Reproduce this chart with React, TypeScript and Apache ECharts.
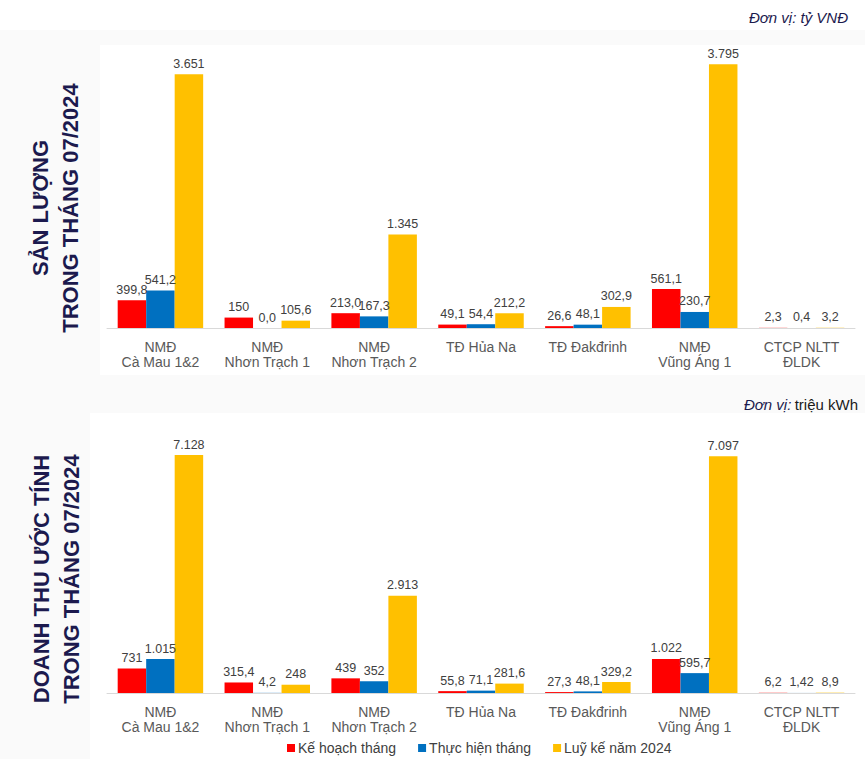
import React, { useEffect, useRef } from "react";
import * as echarts from "echarts";

const categories = [
  "NMĐ\nCà Mau 1&2",
  "NMĐ\nNhơn Trạch 1",
  "NMĐ\nNhơn Trạch 2",
  "TĐ Hủa Na",
  "TĐ Đakđrinh",
  "NMĐ\nVũng Áng 1",
  "CTCP NLTT\nĐLDK",
];

const seriesNames = ["Kế hoạch tháng", "Thực hiện tháng", "Luỹ kế năm 2024"];
const colors = ["#FF0000", "#0070C0", "#FFC000"];

// Top chart: Sản lượng
const topPlan = [399.8, 150, 213.0, 49.1, 26.6, 561.1, 2.3];
const topActual = [541.2, 0.0, 167.3, 54.4, 48.1, 230.7, 0.4];
const topCumulative = [3651, 105.6, 1345, 212.2, 302.9, 3795, 3.2];
const topPlanLabels = ["399,8", "150", "213,0", "49,1", "26,6", "561,1", "2,3"];
const topActualLabels = ["541,2", "0,0", "167,3", "54,4", "48,1", "230,7", "0,4"];
const topCumulativeLabels = ["3.651", "105,6", "1.345", "212,2", "302,9", "3.795", "3,2"];

// Bottom chart: Doanh thu ước tính
const botPlan = [731, 315.4, 439, 55.8, 27.3, 1022, 6.2];
const botActual = [1015, 4.2, 352, 71.1, 48.1, 595.7, 1.42];
const botCumulative = [7128, 248, 2913, 281.6, 329.2, 7097, 8.9];
const botPlanLabels = ["731", "315,4", "439", "55,8", "27,3", "1.022", "6,2"];
const botActualLabels = ["1.015", "4,2", "352", "71,1", "48,1", "595,7", "1,42"];
const botCumulativeLabels = ["7.128", "248", "2.913", "281,6", "329,2", "7.097", "8,9"];

const FONT = "'Liberation Sans', Arial, sans-serif";
const NAVY = "#1c1a4e";

export default function App() {
  const ref = useRef<HTMLDivElement>(null);

  useEffect(() => {
    if (!ref.current) return;
    const chart = echarts.init(ref.current, undefined, { renderer: "svg" });

    const mkSeries = (
      name: string,
      data: number[],
      labels: string[],
      color: string,
      idx: number
    ) => ({
      name,
      type: "bar",
      xAxisIndex: idx,
      yAxisIndex: idx,
      data,
      barGap: "0%",
      barCategoryGap: "20%",
      itemStyle: { color },
      label: {
        show: true,
        position: "top",
        distance: 4,
        fontFamily: FONT,
        fontSize: 12.5,
        color: "#404040",
        formatter: (p: any) => labels[p.dataIndex],
      },
    });

    const xAxisBase = (gridIndex: number) => ({
      type: "category",
      gridIndex,
      data: categories,
      axisLine: { lineStyle: { color: "#d9d9d9", width: 1 } },
      axisTick: { show: false },
      axisLabel: {
        fontFamily: FONT,
        fontSize: 14,
        color: "#595959",
        lineHeight: 15,
        margin: 11,
        interval: 0,
      },
    });

    const yAxisBase = (gridIndex: number, max: number) => ({
      type: "value",
      gridIndex,
      min: 0,
      max,
      show: false,
      splitLine: { show: false },
    });

    chart.setOption({
      animation: false,
      backgroundColor: "#ffffff",
      textStyle: { fontFamily: FONT },
      graphic: [
        { type: "rect", silent: true, z: -10, shape: { x: 0, y: 30, width: 865, height: 729 }, style: { fill: "#fafafa" } },
        { type: "rect", silent: true, z: -9, shape: { x: 100, y: 45, width: 765, height: 330 }, style: { fill: "#ffffff" } },
        { type: "rect", silent: true, z: -9, shape: { x: 90, y: 413, width: 775, height: 346 }, style: { fill: "#ffffff" } },
        {
          type: "text",
          x: 55,
          y: 208,
          rotation: Math.PI / 2,
          style: {
            text: "SẢN LƯỢNG\nTRONG THÁNG 07/2024",
            fontFamily: FONT,
            fontWeight: "bold",
            fontSize: 22,
            lineHeight: 30,
            fill: NAVY,
            align: "center",
            verticalAlign: "middle",
          },
        },
        {
          type: "text",
          x: 56,
          y: 579,
          rotation: Math.PI / 2,
          style: {
            text: "DOANH THU ƯỚC TÍNH\nTRONG THÁNG 07/2024",
            fontFamily: FONT,
            fontWeight: "bold",
            fontSize: 22,
            lineHeight: 30,
            fill: NAVY,
            align: "center",
            verticalAlign: "middle",
          },
        },
        {
          type: "text",
          x: 848,
          y: 17,
          style: {
            text: "Đơn vị: tỷ VNĐ",
            fontFamily: FONT,
            fontStyle: "italic",
            fontSize: 15,
            fill: NAVY,
            align: "right",
            verticalAlign: "middle",
          },
        },
        {
          type: "text",
          x: 858,
          y: 404,
          style: {
            text: "{a|Đơn vị:} {b|triệu kWh}",
            align: "right",
            verticalAlign: "middle",
            rich: {
              a: { fontFamily: FONT, fontStyle: "italic", fontSize: 15, fill: NAVY },
              b: { fontFamily: FONT, fontSize: 15, fill: "#1a1a1a" },
            },
          },
        },
      ],
      legend: {
        data: seriesNames,
        left: 287,
        top: 741,
        padding: 0,
        icon: "rect",
        itemWidth: 8,
        itemHeight: 8,
        itemGap: 22,
        textStyle: { fontFamily: FONT, fontSize: 14, color: "#404040", padding: [0, 0, 0, -2] },
      },
      grid: [
        { left: 107, right: 10, top: 50, bottom: 431 },
        { left: 107, right: 10, top: 426, bottom: 66 },
      ],
      xAxis: [xAxisBase(0), xAxisBase(1)],
      yAxis: [yAxisBase(0, 4000), yAxisBase(1, 8000)],
      series: [
        mkSeries(seriesNames[0], topPlan, topPlanLabels, colors[0], 0),
        mkSeries(seriesNames[1], topActual, topActualLabels, colors[1], 0),
        mkSeries(seriesNames[2], topCumulative, topCumulativeLabels, colors[2], 0),
        mkSeries(seriesNames[0], botPlan, botPlanLabels, colors[0], 1),
        mkSeries(seriesNames[1], botActual, botActualLabels, colors[1], 1),
        mkSeries(seriesNames[2], botCumulative, botCumulativeLabels, colors[2], 1),
      ],
    });

    return () => chart.dispose();
  }, []);

  return (
    <div
      ref={ref}
      style={{ position: "fixed", left: 0, top: 0, width: 865, height: 759 }}
    />
  );
}
